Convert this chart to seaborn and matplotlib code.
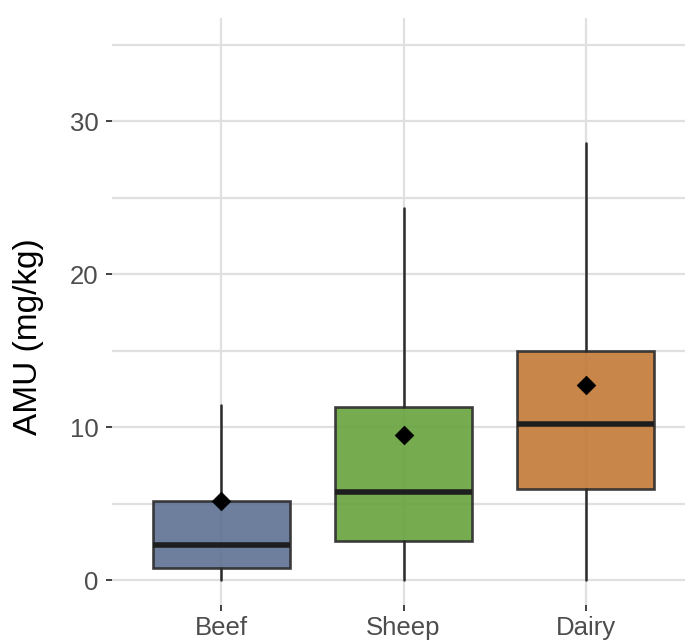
import matplotlib.pyplot as plt
import matplotlib.ticker as mticker
import pandas as pd
import seaborn as sns

# Summary stats (AMU, mg/kg)
farm_types = ["Beef", "Sheep", "Dairy"]
whisker_low = [0.0, 0.0, 0.0]
q1 = [0.80, 2.60, 6.00]
medians = [2.32, 5.80, 10.22]
q3 = [5.17, 11.35, 15.02]
whisker_high = [11.48, 24.32, 28.55]
means = [5.17, 9.48, 12.78]

box_colors = ["#5d7191", "#67a23d", "#c27936"]

sns.set_theme(style="whitegrid")
plt.rcParams["font.family"] = ["Liberation Sans", "DejaVu Sans"]

fig = plt.figure(figsize=(6.85, 6.43), dpi=100)
ax = fig.add_axes([112 / 685, 38 / 643, 583 / 685, 587 / 643])

stats = []
for i, name in enumerate(farm_types):
    stats.append({
        "label": name, "whislo": whisker_low[i], "q1": q1[i], "med": medians[i],
        "q3": q3[i], "whishi": whisker_high[i], "fliers": [],
    })

bp = ax.bxp(stats, positions=range(len(farm_types)), widths=0.75, patch_artist=True,
            showcaps=False, showfliers=False, zorder=2,
            boxprops=dict(edgecolor="#2b2b2b", linewidth=1.9),
            whiskerprops=dict(color="#2b2b2b", linewidth=1.8),
            medianprops=dict(color="#1e1e1e", linewidth=4.0, solid_capstyle="butt"))
for patch, c in zip(bp["boxes"], box_colors):
    patch.set_facecolor(c)
    patch.set_alpha(0.9)
    patch.set_edgecolor("#2b2b2b")

df_means = pd.DataFrame({"pos": range(len(farm_types)), "mean": means})
sns.scatterplot(data=df_means, x="pos", y="mean", marker="D", s=90, color="black",
                edgecolor="black", linewidth=0.5, zorder=4, ax=ax)

ax.set_xlim(-0.6, 2.6)
ax.set_ylim(-1.61, 36.75)
ax.set_xticks(range(len(farm_types)))
ax.set_xticklabels(farm_types)
ax.yaxis.set_major_locator(mticker.MultipleLocator(10))
ax.yaxis.set_minor_locator(mticker.MultipleLocator(5))

ax.grid(which="both", axis="y", color="#e0e0e0", linewidth=1.6)
ax.grid(which="major", axis="x", color="#e0e0e0", linewidth=1.6)
ax.set_axisbelow(True)
for s in ax.spines.values():
    s.set_visible(False)

ax.tick_params(axis="both", which="major", length=4.5, width=1.3, color="#333333",
               labelsize=18.5, labelcolor="#4d4d4d", pad=5)
ax.tick_params(axis="x", which="major", pad=3.5)
ax.tick_params(axis="y", which="minor", length=0)
ax.tick_params(left=True, bottom=True)

ax.set_xlabel("")
ax.set_ylabel("AMU (mg/kg)", fontsize=24, color="black")
ax.yaxis.set_label_coords(-0.117, 0.458)

fig.savefig("out.png", dpi=100)
